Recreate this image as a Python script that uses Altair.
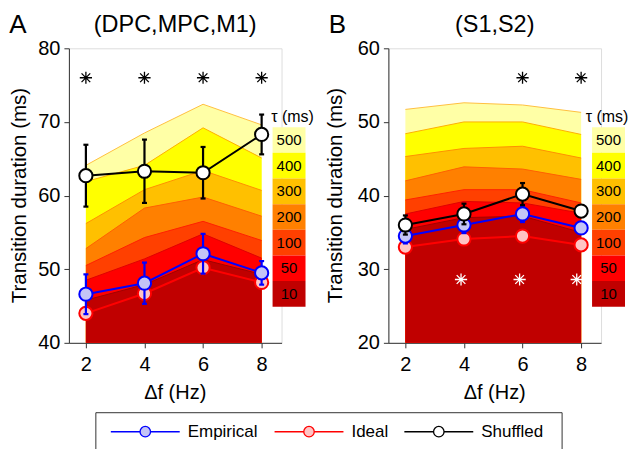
import altair as alt
import pandas as pd

FONT = "Liberation Sans"

# ---------------- data ----------------
hz = [2, 4, 6, 8]
taus = [10, 50, 100, 200, 300, 400, 500]
tau_labels = ["10", "50", "100", "200", "300", "400", "500"]
tau_colors = ["#C00000", "#FF0000", "#FF4000", "#FF8000", "#FFC000", "#FFFF00", "#FFFFA6"]
tau_line_colors = ["#A00000", "#E00000", "#FF2000", "#FF6000", "#FF9000", "#FFB000", "#FFC040"]

# Panel A (DPC,MPC,M1): top of each tau band
A_band_10 = [45.8, 47.9, 51.3, 49.3]
A_band_50 = [48.5, 51.4, 54.8, 51.5]
A_band_100 = [50.5, 54.3, 56.5, 53.9]
A_band_200 = [52.8, 58.3, 59.8, 57.2]
A_band_300 = [56.2, 60.8, 63.4, 60.7]
A_band_400 = [61.9, 64.1, 69.2, 65.1]
A_band_500 = [64.1, 68.5, 72.4, 69.6]
A_emp = [46.6, 48.1, 52.1, 49.5]
A_emp_err = [2.7, 2.8, 2.7, 1.6]
A_ideal = [44.0, 46.7, 50.2, 48.2]
A_shuf = [62.7, 63.3, 63.1, 68.3]
A_shuf_err = [4.2, 4.3, 3.5, 2.7]
A_star_black_x = [2, 4, 6, 8]
A_star_black_y = [76, 76, 76, 76]

# Panel B (S1,S2)
B_band_10 = [35.4, 37.0, 37.2, 35.0]
B_band_50 = [37.5, 39.2, 39.0, 37.6]
B_band_100 = [39.4, 40.8, 40.8, 39.0]
B_band_200 = [42.0, 43.9, 43.6, 42.2]
B_band_300 = [45.3, 46.4, 46.7, 45.1]
B_band_400 = [48.4, 50.0, 50.0, 48.3]
B_band_500 = [51.7, 52.6, 52.3, 51.3]
B_emp = [34.5, 36.0, 37.5, 35.6]
B_emp_err = [1.0, 1.1, 1.1, 0.6]
B_ideal = [33.0, 34.1, 34.5, 33.3]
B_shuf = [36.0, 37.5, 40.2, 37.9]
B_shuf_err = [1.3, 1.4, 1.5, 0.8]
B_star_black_x = [6, 8]
B_star_black_y = [56, 56]
B_star_white_x = [3.9, 5.9, 7.85]
B_star_white_y = [28.6, 28.6, 28.6]

A_bands = [A_band_10, A_band_50, A_band_100, A_band_200, A_band_300, A_band_400, A_band_500]
B_bands = [B_band_10, B_band_50, B_band_100, B_band_200, B_band_300, B_band_400, B_band_500]

series_names = ["Empirical", "Ideal", "Shuffled"]
series_line = ["#0000FF", "#FF0000", "#000000"]
series_fill = ["#C4C4F6", "#FFC4C4", "#FFFFFF"]

STAR = "M-1,0L1,0M0,-1L0,1M-0.71,-0.71L0.71,0.71M-0.71,0.71L0.71,-0.71"
CAP = "M-1,0L1,0"

W, H = 213, 295
ONE = pd.DataFrame({"d": [0]})


def txt(text, x, y, size, angle=0, align="center", color="black"):
    return alt.Chart(ONE).mark_text(
        text=text, fontSize=size, font=FONT, angle=angle, align=align,
        baseline="middle", color=color
    ).encode(x=alt.value(x), y=alt.value(y))


def panel(bands, emp, emp_err, ideal, shuf, shuf_err, stars, ymin, ymax,
          title, letter, ytitle_x, tau_x, legend):
    xs = alt.Scale(domain=[1.42, 8.68], nice=False, zero=False)
    ys = alt.Scale(domain=[ymin, ymax], nice=False, zero=False)
    xaxis = alt.Axis(values=hz, title=None, grid=False, labelFontSize=20, labelFont=FONT,
                     labelColor="black", tickSize=5, tickColor="#333", domainColor="#333",
                     labelPadding=7, labelFlush=False)
    yaxis = alt.Axis(values=list(range(ymin, ymax + 1, 10)), title=None, grid=False,
                     labelFontSize=20, labelFont=FONT, labelColor="black", tickSize=5,
                     tickColor="#333", domainColor="#333", labelPadding=4)
    xe = alt.X("f:Q", scale=xs, axis=xaxis)

    def ye(field):
        return alt.Y(field, type="quantitative", scale=ys, axis=yaxis)

    layers = []
    # bands, largest first
    for i in reversed(range(len(taus))):
        d = pd.DataFrame({"f": hz, "v": bands[i]})
        layers.append(
            alt.Chart(d).mark_area(
                color=tau_colors[i], opacity=1,
                line={"color": tau_line_colors[i], "strokeWidth": 1}
            ).encode(x=xe, y=ye("v"), y2=alt.datum(ymin))
        )
    # series
    data = [(ideal, None), (emp, emp_err), (shuf, shuf_err)]
    order = [1, 0, 2]
    for k, (vals, err) in zip(order, data):
        d = pd.DataFrame({"f": hz, "v": vals})
        if err is not None:
            d["lo"] = [v - e for v, e in zip(vals, err)]
            d["hi"] = [v + e for v, e in zip(vals, err)]
            layers.append(alt.Chart(d).mark_rule(color=series_line[k], strokeWidth=2.2).encode(
                x=xe, y=ye("lo"), y2="hi"))
            for end in ["lo", "hi"]:
                layers.append(alt.Chart(d).mark_point(
                    shape=CAP, filled=False, stroke=series_line[k], strokeWidth=2.2,
                    size=25, opacity=1).encode(x=xe, y=ye(end)))
        layers.append(alt.Chart(d).mark_line(color=series_line[k], strokeWidth=2).encode(
            x=xe, y=ye("v")))
        layers.append(alt.Chart(d).mark_circle(
            fill=series_fill[k], stroke=series_line[k], strokeWidth=2, size=175, opacity=1
        ).encode(x=xe, y=ye("v")))
    # stars
    for sx, sy, col in stars:
        d = pd.DataFrame({"f": sx, "v": sy})
        layers.append(alt.Chart(d).mark_point(
            shape=STAR, filled=False, stroke=col, strokeWidth=1.3, size=150, opacity=1
        ).encode(x=xe, y=ye("v")))

    # colour key
    bx0, bx1, by0, bh = 204, 237, 79, 25.7
    for j, i in enumerate(reversed(range(len(taus)))):
        layers.append(alt.Chart(ONE).mark_rect(color=tau_colors[i], opacity=1).encode(
            x=alt.value(bx0), x2=alt.value(bx1),
            y=alt.value(by0 + j * bh), y2=alt.value(by0 + (j + 1) * bh)))
        layers.append(txt(tau_labels[i], (bx0 + bx1) / 2, by0 + (j + 0.5) * bh, 15))
    layers.append(txt("τ (ms)", tau_x, 69, 16))

    # titles
    layers.append(txt(letter, -51, -23, 26))
    layers.append(txt(title, W / 2, -23, 23.5))
    layers.append(txt("Transition duration (ms)", ytitle_x, H / 2, 20.5, angle=270))
    layers.append(txt("Δf (Hz)", W / 2, 345, 20))

    if legend:
        lx0, lx1, ly0, ly1 = 27, 494, 365, 412
        layers.append(alt.Chart(ONE).mark_rect(fill="white", stroke="#333", strokeWidth=1).encode(
            x=alt.value(lx0), x2=alt.value(lx1), y=alt.value(ly0), y2=alt.value(ly1)))
        ly = 384
        starts = [42, 206, 336]
        for k in range(3):
            s = starts[k]
            layers.append(alt.Chart(ONE).mark_rule(color=series_line[k], strokeWidth=1.5).encode(
                x=alt.value(s), x2=alt.value(s + 69), y=alt.value(ly)))
            layers.append(alt.Chart(ONE).mark_circle(
                fill=series_fill[k], stroke=series_line[k], strokeWidth=1.3, size=110, opacity=1
            ).encode(x=alt.value(s + 34.5), y=alt.value(ly)))
            layers.append(txt(series_names[k], s + 77, ly, 17, align="left"))

    return alt.layer(*layers).properties(width=W, height=H)


pA = panel(A_bands, A_emp, A_emp_err, A_ideal, A_shuf, A_shuf_err,
           [(A_star_black_x, A_star_black_y, "#000000")], 40, 80,
           "(DPC,MPC,M1)", "A", -49, 224, True)
pB = panel(B_bands, B_emp, B_emp_err, B_ideal, B_shuf, B_shuf_err,
           [(B_star_black_x, B_star_black_y, "#000000"),
            (B_star_white_x, B_star_white_y, "#FFFFFF")], 20, 60,
           "(S1,S2)", "B", -52, 219, False)

chart = alt.hconcat(pA, pB, spacing=107, bounds="flush").properties(
    padding={"left": 0, "top": 3, "right": 0, "bottom": 0}
).configure_view(stroke=None).configure(font=FONT)

chart.save("out.html", embed_options={"renderer": "svg", "actions": False})
